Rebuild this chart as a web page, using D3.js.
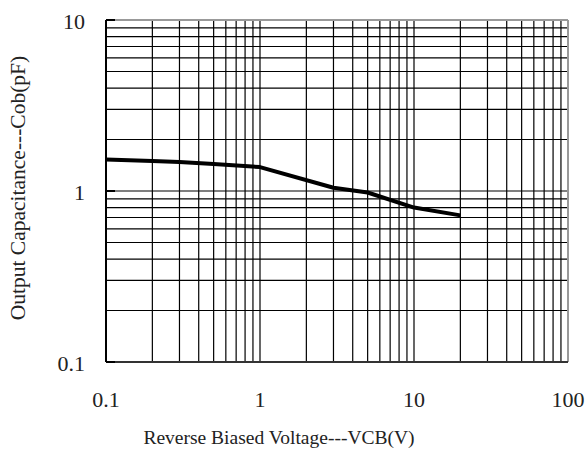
<!DOCTYPE html>
<html>
<head>
<meta charset="utf-8">
<script src="https://cdn.jsdelivr.net/npm/d3@7"></script>
<style>
  body { margin: 0; background: #fff; }
  text { font-family: "Liberation Serif", "Times New Roman", serif; fill: #222; }
</style>
</head>
<body>
<svg id="chart"></svg>
<script>
// --- DATA ---
const voltage = [0.1, 0.2, 0.3, 0.5, 1, 3, 5, 10, 20];
const capacitance = [1.53, 1.50, 1.48, 1.44, 1.38, 1.045, 0.98, 0.80, 0.72];
const xTicks = [0.1, 1, 10, 100];
const yTicks = [0.1, 1, 10];

// --- SETUP ---
const W = 586, H = 450;
const margin = { top: 20, right: 18, bottom: 88, left: 106 };
const width = W - margin.left - margin.right;
const height = H - margin.top - margin.bottom;

const svg = d3.select("#chart").attr("width", W).attr("height", H)
  .append("g")
  .attr("transform", `translate(${margin.left},${margin.top})`);

const x = d3.scaleLog().domain([0.1, 100]).range([0, width]);
const y = d3.scaleLog().domain([0.1, 10]).range([height, 0]);

// minor grid values 1..9 per decade
const gridX = [], gridY = [];
[0.1, 1, 10].forEach(d => { for (let k = 1; k <= 9; k++) gridX.push(d * k); });
[0.1, 1].forEach(d => { for (let k = 1; k <= 9; k++) gridY.push(d * k); });

svg.append("g").selectAll("line").data(gridX.slice(1)).join("line")
  .attr("x1", d => x(d)).attr("x2", d => x(d))
  .attr("y1", 0).attr("y2", height)
  .attr("stroke", "#000").attr("stroke-width", 1.2);

svg.append("g").selectAll("line").data(gridY.slice(1)).join("line")
  .attr("y1", d => y(d)).attr("y2", d => y(d))
  .attr("x1", 0).attr("x2", width)
  .attr("stroke", "#000").attr("stroke-width", 1.2);

// frame: top/right grey, left/bottom black
svg.append("line").attr("x1", 0).attr("x2", width).attr("y1", 0).attr("y2", 0)
  .attr("stroke", "#999").attr("stroke-width", 2);
svg.append("line").attr("x1", width).attr("x2", width).attr("y1", 0).attr("y2", height)
  .attr("stroke", "#999").attr("stroke-width", 2);
svg.append("line").attr("x1", 0).attr("x2", 0).attr("y1", 0).attr("y2", height)
  .attr("stroke", "#000").attr("stroke-width", 2);
svg.append("line").attr("x1", 0).attr("x2", width).attr("y1", height).attr("y2", height)
  .attr("stroke", "#333").attr("stroke-width", 2);

// short inner ticks at major y values
svg.append("g").selectAll("line").data(yTicks).join("line")
  .attr("x1", 0).attr("x2", 9)
  .attr("y1", d => y(d)).attr("y2", d => y(d))
  .attr("stroke", "#000").attr("stroke-width", 2);

// tick labels
svg.append("g").selectAll("text").data(yTicks).join("text")
  .attr("x", -21).attr("y", d => y(d))
  .attr("dy", "0.42em")
  .attr("text-anchor", "end")
  .style("font-size", "22px")
  .text(d => d);

svg.append("g").selectAll("text").data(xTicks).join("text")
  .attr("x", d => x(d)).attr("y", height + 45)
  .attr("text-anchor", "middle")
  .style("font-size", "22px")
  .text(d => d);

// axis titles
svg.append("text")
  .attr("x", 173).attr("y", height + 82)
  .attr("text-anchor", "middle")
  .style("font-size", "19.5px")
  .text("Reverse Biased Voltage---VCB(V)");

svg.append("text")
  .attr("transform", "rotate(-90)")
  .attr("x", -(188 - margin.top)).attr("y", -margin.left + 25)
  .attr("text-anchor", "middle")
  .style("font-size", "21.5px")
  .text("Output Capacitance---Cob(pF)");

// curve
svg.append("path")
  .datum(voltage.map((v, i) => [v, capacitance[i]]))
  .attr("fill", "none")
  .attr("stroke", "#000")
  .attr("stroke-width", 4)
  .attr("stroke-linejoin", "round")
  .attr("d", d3.line().x(d => x(d[0])).y(d => y(d[1])));
</script>
</body>
</html>
